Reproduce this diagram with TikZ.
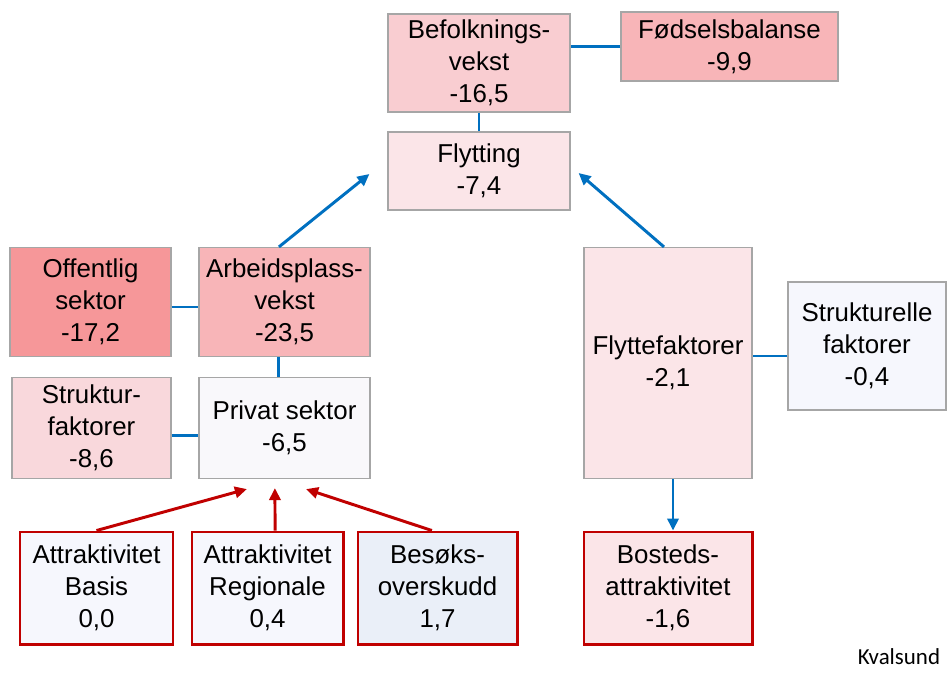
\documentclass[tikz,border=0pt]{standalone}
\usepackage{fontspec}
\setmainfont{Liberation Sans}
\newfontfamily\kvfont{Carlito}
\usetikzlibrary{positioning,calc,arrows.meta}
\definecolor{linkblue}{HTML}{0070C0}
\definecolor{darkred}{HTML}{C00000}
\definecolor{boxgray}{HTML}{A6A6A6}
\definecolor{pinkA}{HTML}{F69799}
\definecolor{pinkB}{HTML}{F8B5B8}
\definecolor{pinkC}{HTML}{F9CDD1}
\definecolor{pinkD}{HTML}{F9D8DC}
\definecolor{pinkE}{HTML}{FBE5E8}
\definecolor{paleA}{HTML}{F9F8FB}
\definecolor{paleB}{HTML}{F6F7FD}
\definecolor{paleC}{HTML}{EAEFF8}

\begin{document}
\begin{tikzpicture}[x=0.025cm,y=-0.025cm,
  box/.style={rectangle,draw=boxgray,line width=0.8pt,align=center,inner sep=0pt,
    font=\fontsize{18.4}{22.7}\selectfont},
  redbox/.style={box,draw=darkred,line width=2.1pt},
  link/.style={draw=linkblue,line width=2.1pt},
  linkarrow/.style={link,-{Triangle[length=0.3cm,width=0.28cm]}},
  redarrow/.style={draw=darkred,line width=2.1pt,-{Triangle[length=0.3cm,width=0.28cm]}}]
\useasboundingbox (0,0) rectangle (947,672);

% top row
\node[box,fill=pinkC,minimum width=4.55cm,minimum height=2.45cm] (bef) at (479,63) {Befolknings-\\vekst\\-16,5};
\node[box,fill=pinkB,minimum width=5.425cm,minimum height=1.725cm] (fod) at (729.5,46.5) {Fødselsbalanse\\-9,9};
\node[box,fill=pinkE,minimum width=4.55cm,minimum height=1.95cm] (fly) at (479,171) {Flytting\\-7,4};

% left side
\node[box,fill=pinkA,minimum width=4.025cm,minimum height=2.725cm] (off) at (90.5,302) {Offentlig\\sektor\\-17,2};
\node[box,fill=pinkB,minimum width=4.275cm,minimum height=2.725cm] (arb) at (284.5,302) {Arbeidsplass-\\vekst\\-23,5};
\node[box,fill=pinkD,minimum width=3.975cm,minimum height=2.525cm] (str) at (91.5,428) {Struktur-\\faktorer\\-8,6};
\node[box,fill=paleA,minimum width=4.275cm,minimum height=2.525cm] (pri) at (284.5,428) {Privat sektor\\-6,5};

% right side
\node[box,fill=pinkE,minimum width=4.2cm,minimum height=5.775cm] (flf) at (668,363) {Flyttefaktorer\\-2,1};
\node[box,fill=paleB,minimum width=3.95cm,minimum height=3.2cm] (stf) at (867,346) {Strukturelle\\faktorer\\-0,4};

% bottom row
\node[redbox,fill=paleB,minimum width=3.825cm,minimum height=2.8cm] (bas) at (96.5,588) {Attraktivitet\\Basis\\0,0};
\node[redbox,fill=paleB,minimum width=3.775cm,minimum height=2.8cm] (reg) at (267.5,588) {Attraktivitet\\Regionale\\0,4};
\node[redbox,fill=paleC,minimum width=3.975cm,minimum height=2.8cm] (bes) at (437.5,588) {Besøks-\\overskudd\\1,7};
\node[redbox,fill=pinkE,minimum width=4.2cm,minimum height=2.8cm] (bos) at (668,588) {Bosteds-\\attraktivitet\\-1,6};

\node[anchor=base east,font=\kvfont\fontsize{16.3}{19}\selectfont] (kval) at (945,664) {Kvalsund};

% connectors
\draw[link] (fod.west) -- (fod.west -| bef.east);
\draw[link] (bef.south) -- (fly.north);
\draw[link] ([yshift=-0.125cm]off.east) -- ([yshift=-0.125cm]arb.west);
\draw[link] ([xshift=-0.16cm]arb.south) -- ([xshift=-0.16cm]pri.north);
\draw[link] ([yshift=-0.19cm]str.east) -- ([yshift=-0.19cm]pri.west);
\draw[link] ([yshift=-0.25cm]stf.west) -- ([yshift=-0.25cm]stf.west -| flf.east);
\draw[linkarrow] ([xshift=-0.14cm]arb.north) -- ([shift={(-0.45cm,-0.075cm)}]fly.west);
\draw[linkarrow] ([xshift=-0.1cm]flf.north) -- ([shift={(0.2cm,-0.05cm)}]fly.east);
\draw[linkarrow] ([xshift=0.125cm]flf.south) -- ([xshift=0.125cm]bos.north);

\draw[redarrow] (bas.north) -- ([shift={(-0.94cm,-0.25cm)}]pri.south);
\draw[redarrow] ([xshift=0.19cm]reg.north) -- ([shift={(-0.24cm,-0.225cm)}]pri.south);
\draw[redarrow] ([xshift=-0.14cm]bes.north) -- ([shift={(0.54cm,-0.25cm)}]pri.south);
\end{tikzpicture}
\end{document}
